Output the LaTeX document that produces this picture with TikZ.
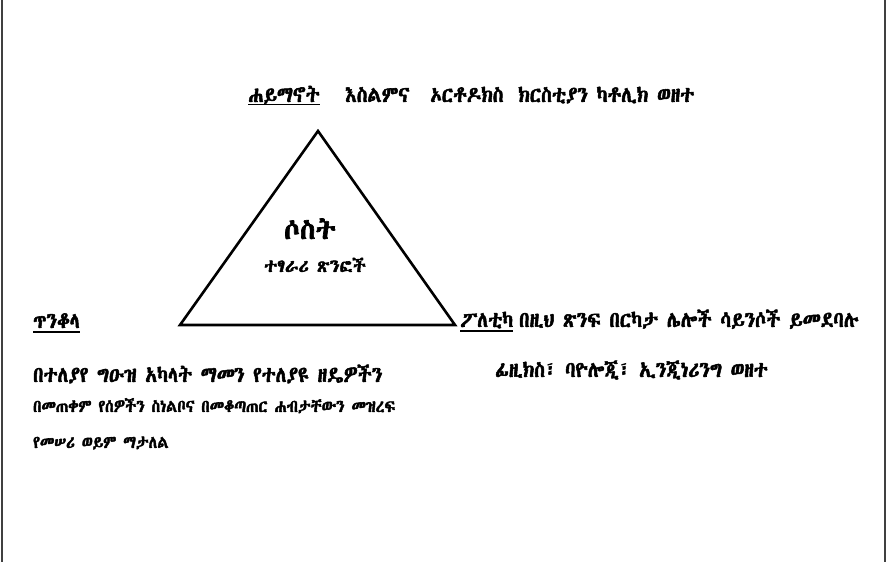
\documentclass[tikz,border=0pt]{standalone}
\usepackage{fontspec}
\newfontfamily\ethfont[Script=Ethiopic, AutoFakeBold=2.4, FakeStretch=0.88]{Abyssinica SIL}
\newfontfamily\ethwide[Script=Ethiopic, AutoFakeBold=2.4]{Abyssinica SIL}

\tikzset{
  lbl/.style={anchor=base west, inner sep=0pt, font=\ethfont\bfseries\fontsize{22}{26}\selectfont},
  small/.style={lbl, font=\ethfont\bfseries\fontsize{17.5}{20}\selectfont},
  mid/.style={anchor=base, inner sep=0pt, font=\ethwide\bfseries\fontsize{#1}{#1}\selectfont},
}

\begin{document}
\begin{tikzpicture}[x=1pt, y=-1pt]
    \useasboundingbox (0,0) rectangle (888,562);

    \coordinate (T) at (318, 131);
    \coordinate (L) at (180, 325);
    \coordinate (R) at (455, 325);

    \draw[line width=1.8pt, black!75] (2,0) -- (2,562);
    \draw[line width=1.8pt, black!75] (885,0) -- (885,562);

    \draw[line width=2.6pt] (T) -- (L) -- (R) -- cycle;

    \node[lbl] (rel) at (248, 102) {ሐይማኖት};
    \node[lbl] (isl) at (345, 102) {እስልምና};
    \node[lbl] (ort) at (430, 102) {ኦርቶዶክስ};
    \node[lbl] (chr) at (518, 102) {ክርስቲያን ካቶሊክ ወዘተ};

    \node[mid=28] (three) at (310, 239) {ሶስት};
    \node[mid=18] (ext) at (315, 272) {ተፃራሪ ጽንፎች};

    \node[lbl] (wit) at (33, 328) {ጥንቆላ};
    \node[lbl] (wit1) at (33, 382) {በተለያየ ግዑዝ አካላት ማመን የተለያዩ  ዘዴዎችን};
    \node[small] (wit2) at (33, 412) {በመጠቀም የሰዎችን ስነልቦና በመቆጣጠር ሐብታቸውን መዝረፍ};
    \node[small] (wit3) at (33, 448) {የመሠሪ ወይም ማታለል};

    \node[lbl] (pol) at (460, 327) {ፖለቲካ};
    \node[lbl] (pol1) at (519, 327) {በዚህ ጽንፍ በርካታ ሌሎች ሳይንሶች ይመደባሉ};
    \node[lbl] (pol2) at (495, 377) {ፊዚክስ፣ ባዮሎጂ፣ ኢንጂነሪንግ ወዘተ};

    \draw[line width=1.3pt] ([yshift=-2.5pt]rel.base west) -- ([yshift=-2.5pt]rel.base east);
    \draw[line width=1.3pt] ([yshift=-4pt]wit.base west) -- ([yshift=-4pt]wit.base east);
    \draw[line width=1.3pt] ([yshift=-4pt]pol.base west) -- ([yshift=-4pt]pol.base east);
  \end{tikzpicture}
\end{document}
